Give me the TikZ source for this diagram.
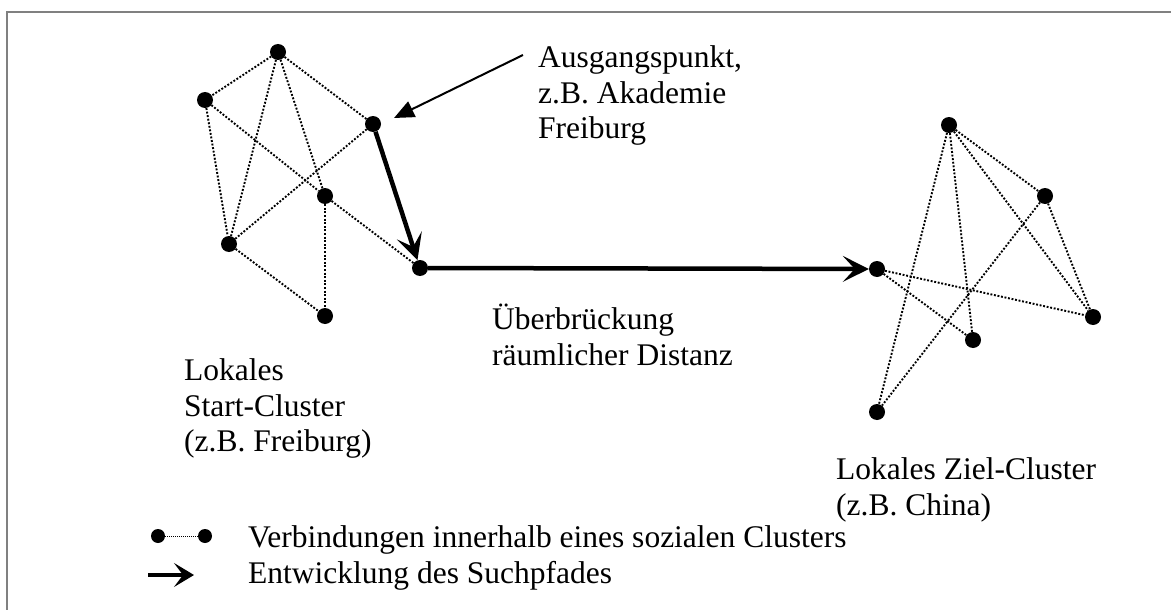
\documentclass[tikz,border=0pt]{standalone}
\usepackage{fontspec}
\setmainfont{Liberation Serif}
\usetikzlibrary{arrows.meta}
\begin{document}
\begin{tikzpicture}[x=1pt,y=-1pt,
  dot/.style={circle,fill=black,inner sep=0pt,minimum size=16pt},
  link/.style={line width=1.9pt,dash pattern=on 1.9pt off 1.7pt},
  pathedge/.style={line width=4.5pt,-{Stealth[length=26pt,width=26pt,inset=12pt]}},
  pointer/.style={line width=2pt,-{Triangle[length=20pt,width=17pt]}},
  lbl/.style={font=\fontsize{31.5}{35.8}\selectfont,align=left,inner sep=0pt,anchor=north west}]
\useasboundingbox (0,0) rectangle (1171,610);
\draw[gray,line width=1.5pt] (7,12) rectangle (1190,630);
% left cluster
\node[dot] (A) at (278,52) {};
\node[dot] (B) at (205,100) {};
\node[dot] (C) at (373,124) {};
\node[dot] (D) at (325,196) {};
\node[dot] (E) at (229,244) {};
\node[dot] (F) at (325,316) {};
\node[dot] (G) at (420,268) {};
% right cluster
\node[dot] (H) at (949,125) {};
\node[dot] (I) at (1045,196) {};
\node[dot] (J) at (877,269) {};
\node[dot] (K) at (1093,317) {};
\node[dot] (L) at (973,340) {};
\node[dot] (M) at (877,412) {};
% links left
\draw[link] (A) -- (B);
\draw[link] (A) -- (C);
\draw[link] (A) -- (D);
\draw[link] (A) -- (E);
\draw[link] (B) -- (E);
\draw[link] (B) -- (D);
\draw[link] (D) -- (G);
\draw[link] (C) -- (E);
\draw[link] (E) -- (F);
\draw[link] (D) -- (F);
% links right
\draw[link] (H) -- (I);
\draw[link] (H) -- (K);
\draw[link] (H) -- (L);
\draw[link] (H) -- (M);
\draw[link] (I) -- (K);
\draw[link] (I) -- (M);
\draw[link] (J) -- (K);
\draw[link] (J) -- (L);
% search path
\draw[pathedge] (C) -- (G);
\draw[pathedge] (G) -- (J);
% labels
\node[lbl] (ausg) at (538,43) {\rule{0pt}{24pt}Ausgangspunkt,\\z.B. Akademie\\Freiburg};
\coordinate (ptr) at (523,55);
\coordinate (ptrtip) at (394,118);
\draw[pointer] (ptr) -- (ptrtip);
\node[lbl] (ueber) at (492,304) {\rule{0pt}{24pt}Überbrückung\\räumlicher Distanz};
\node[lbl] (start) at (184,356) {\rule{0pt}{24pt}Lokales\\Start-Cluster\\(z.B. Freiburg)};
\node[lbl] (ziel) at (836,455) {\rule{0pt}{24pt}Lokales Ziel-Cluster\\(z.B. China)};
% legend
\node[dot,minimum size=14pt] (la) at (158,536) {};
\node[dot,minimum size=14pt] (lb) at (205,536) {};
\draw[line width=1pt,dash pattern=on 1pt off 1pt] (la) -- (lb);
\coordinate (lc) at (148,575);
\coordinate (ld) at (194,575);
\draw[line width=4pt,-{Stealth[length=20pt,width=24pt,inset=9pt]}] (lc) -- (ld);
\node[lbl] (leg1) at (248,523) {\rule{0pt}{24pt}Verbindungen innerhalb eines sozialen Clusters\\Entwicklung des Suchpfades};
\end{tikzpicture}
\end{document}
